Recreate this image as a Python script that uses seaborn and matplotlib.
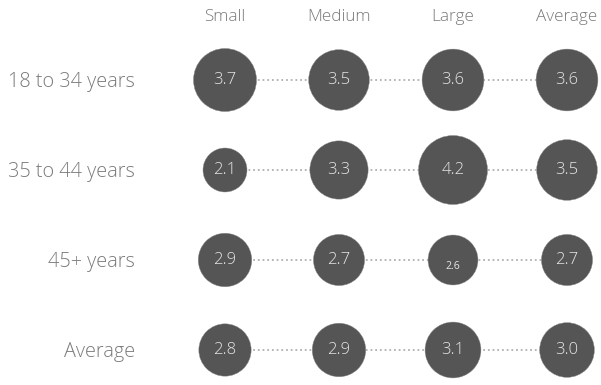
import matplotlib
matplotlib.use("Agg")
import matplotlib.pyplot as plt
import seaborn as sns
import pandas as pd

# Company size columns and age-group rows
sizes_cols = ["Small", "Medium", "Large", "Average"]
age_rows = ["18 to 34 years", "35 to 44 years", "45+ years", "Average"]

# Scores per age group, in column order
row_18_34 = [3.7, 3.5, 3.6, 3.6]
row_35_44 = [2.1, 3.3, 4.2, 3.5]
row_45_plus = [2.9, 2.7, 2.6, 2.7]
row_average = [2.8, 2.9, 3.1, 3.0]

values = [row_18_34, row_35_44, row_45_plus, row_average]

# cells whose value label is set in a smaller type, below centre
small_labels = {(2, 2)}

sns.set_theme(style="white")
plt.rcParams["font.family"] = ["Open Sans", "DejaVu Sans"]

records = []
for r, vals in zip(age_rows, values):
    for c, v in zip(sizes_cols, vals):
        records.append({"row": r, "col": c, "value": v})
df = pd.DataFrame(records)

W, H, DPI = 601, 385, 100
fig = plt.figure(figsize=(W / DPI, H / DPI), dpi=DPI)
# axes box in pixels: left 150, right 601, top 35, bottom 385
ax = fig.add_axes([150 / W, 0, (W - 150) / W, (H - 35) / H])

# marker area: diameter grows linearly with the score
def marker_area(v):
    d_px = 19 + 11.9 * v
    d_pt = d_px * 72 / DPI
    return d_pt ** 2

size_map = {v: marker_area(v) for v in df["value"].unique()}

# dotted connectors along each row
for i, vals in enumerate(values):
    ax.plot(range(len(vals)), [i] * len(vals), color="#b0b0b0",
            linestyle=(0, (1, 1.6)), linewidth=1.3, zorder=1)

sns.scatterplot(data=df, x="col", y="row", size="value", sizes=size_map,
                color="#555555", edgecolor="#8a8a8a", linewidth=0.3,
                legend=False, ax=ax, zorder=2, clip_on=False)

for i, vals in enumerate(values):
    for j, v in enumerate(vals):
        small = (i, j) in small_labels
        ax.text(j, i + (0.07 if small else 0.0), f"{v:.1f}",
                ha="center", va="center",
                fontweight="normal" if small else "light",
                fontsize=7.5 if small else 12, color="#e6e6e6", zorder=3)

ax.set_xlim(-75 / 114, 3 + 34 / 114)
ax.set_ylim(3 + 35 / 90, -0.5)

ax.xaxis.tick_top()
ax.set_xticks(range(len(sizes_cols)))
ax.set_xticklabels(sizes_cols, fontsize=12.3, color="#7a7a7a", fontweight="light")
ax.set_yticks(range(len(age_rows)))
ax.set_yticklabels(age_rows, fontsize=14.3, color="#7a7a7a", fontweight="light")
ax.tick_params(axis="x", length=0, pad=7)
ax.tick_params(axis="y", length=0, pad=11)
ax.set_xlabel("")
ax.set_ylabel("")
for s in ax.spines.values():
    s.set_visible(False)

fig.savefig("out.png", dpi=DPI, facecolor="white")
